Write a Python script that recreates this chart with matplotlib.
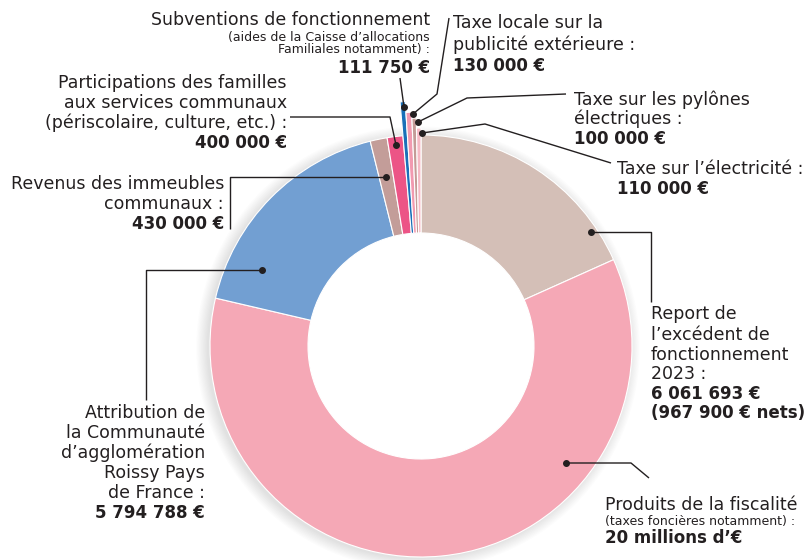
import matplotlib.pyplot as plt
from matplotlib.patches import Wedge

# Recettes de fonctionnement (euros), in drawing order clockwise from the top
categories = ["Report de l’excédent de fonctionnement 2023",
              "Produits de la fiscalité",
              "Attribution de la Communauté d’agglomération Roissy Pays de France",
              "Revenus des immeubles communaux",
              "Participations des familles aux services communaux",
              "Subventions de fonctionnement",
              "Taxe locale sur la publicité extérieure",
              "Taxe sur les pylônes électriques",
              "Taxe sur l’électricité"]
values = [6061693, 20000000, 5794788, 430000, 400000, 111750, 130000, 100000, 110000]
colors = ['#d4bfb7', '#f5a8b6', '#729fd2', '#c39d99', '#ec5486',
          '#1a70b8', '#f29ab0', '#c49b97', '#f7bac5']
# small slices are drawn a bit longer so they stay visible
outer_r = [211, 211, 211, 211, 211, 245, 234, 228, 218]

W, H = 808, 560
CX, CY = 421, 346
R_IN = 113
TXT = '#231f20'

fig = plt.figure(figsize=(W / 100, H / 100), dpi=100)
ax = fig.add_axes([0, 0, 1, 1])

wedges, _ = ax.pie(values, colors=colors, startangle=90, counterclock=False,
                   radius=211, center=(CX, H - CY),
                   wedgeprops=dict(width=211 - R_IN, edgecolor='white', linewidth=0.8))
for w, r in zip(wedges, outer_r):
    w.set_radius(r)
    w.set_width(r - R_IN)
    w.set_zorder(2)

# soft shadow around the outside of the ring only
for k in range(10):
    ax.add_patch(Wedge((CX - 3, H - CY - 2), 211 + k * 1.2, 0, 360, width=60,
                       color='black', alpha=0.012, zorder=1, lw=0))

ax.set_xlim(0, W)
ax.set_ylim(0, H)
ax.set_aspect('equal')
ax.axis('off')


def line(pts):
    xs = [p[0] for p in pts]
    ys = [H - p[1] for p in pts]
    ax.plot(xs, ys, color='#231f20', lw=1, zorder=3, solid_capstyle='butt')
    ax.plot(xs[0], ys[0], 'o', color='#231f20', ms=4, zorder=4)


def label(x, rows, ha):
    # rows: (text, y in pixels from top, kind)
    for txt, y, kind in rows:
        if kind == 'b':
            ax.text(x, H - y, txt, ha=ha, va='center', fontsize=12, fontweight='bold', color=TXT)
        elif kind == 's':
            ax.text(x, H - y, txt, ha=ha, va='center', fontsize=9, color=TXT)
        else:
            ax.text(x, H - y, txt, ha=ha, va='center', fontsize=12.5, color=TXT)


# connectors
line([(404, 107), (400, 78)])
line([(413, 114), (437, 94), (449, 18)])
line([(418, 122), (467, 98), (566, 94)])
line([(422, 133), (485, 124), (611, 163)])
line([(396, 145), (390, 117), (290, 117)])
line([(386, 177), (230, 177), (230, 229)])
line([(262, 270), (146, 270), (146, 400)])
line([(591, 232), (651, 232), (651, 302)])
line([(566, 463), (631, 463), (649, 478)])

# labels
label(430, [("Subventions de fonctionnement", 20, 'n'),
            ("(aides de la Caisse d’allocations", 37, 's'),
            ("Familiales notamment) :", 49, 's'),
            ("111 750 €", 68, 'b')], 'right')
label(453, [("Taxe locale sur la", 23, 'n'),
            ("publicité extérieure :", 45, 'n'),
            ("130 000 €", 66, 'b')], 'left')
label(574, [("Taxe sur les pylônes", 100, 'n'),
            ("électriques :", 119, 'n'),
            ("100 000 €", 139, 'b')], 'left')
label(617, [("Taxe sur l’électricité :", 169, 'n'),
            ("110 000 €", 189, 'b')], 'left')
label(287, [("Participations des familles", 83, 'n'),
            ("aux services communaux", 103, 'n'),
            ("(périscolaire, culture, etc.) :", 123, 'n'),
            ("400 000 €", 143, 'b')], 'right')
label(224, [("Revenus des immeubles", 184, 'n'),
            ("communaux :", 204, 'n'),
            ("430 000 €", 224, 'b')], 'right')
label(651, [("Report de", 314, 'n'),
            ("l’excédent de", 335, 'n'),
            ("fonctionnement", 355, 'n'),
            ("2023 :", 374, 'n'),
            ("6 061 693 €", 394, 'b'),
            ("(967 900 € nets)", 413, 'b')], 'left')
label(205, [("Attribution de", 413, 'n'),
            ("la Communauté", 433, 'n'),
            ("d’agglomération", 453, 'n'),
            ("Roissy Pays", 473, 'n'),
            ("de France :", 493, 'n'),
            ("5 794 788 €", 513, 'b')], 'right')
label(605, [("Produits de la fiscalité", 505, 'n'),
            ("(taxes foncières notamment) :", 521, 's'),
            ("20 millions d’€", 538, 'b')], 'left')

fig.savefig('out.png', dpi=100)
